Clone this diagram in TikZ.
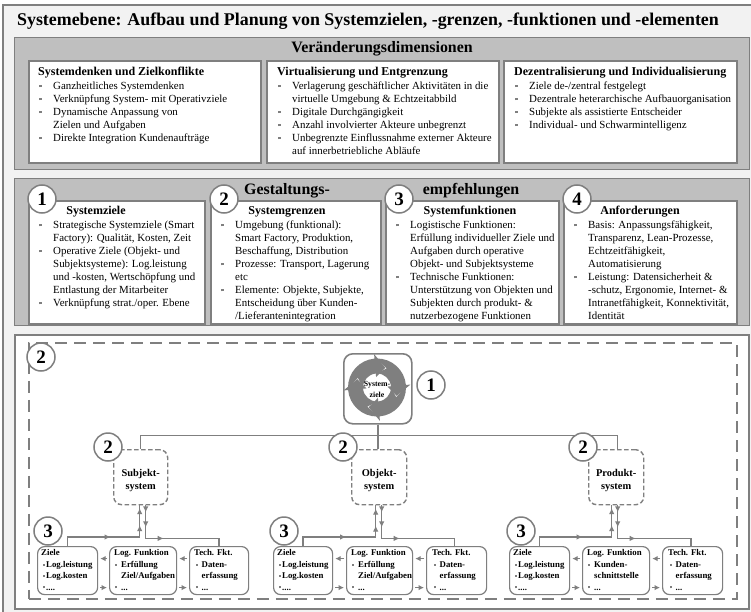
\documentclass[tikz,border=0pt]{standalone}
\usepackage{fontspec}
\setmainfont{Liberation Serif}
\usetikzlibrary{arrows.meta,decorations.markings}
\definecolor{linie}{HTML}{7F7F7F}
\definecolor{flaeche}{HTML}{BFBFBF}
\definecolor{grund}{HTML}{F2F2F2}
\newcommand{\pkt}{\makebox[15pt][l]{\hspace{1pt}\textcolor{linie}{\rule[1.9pt]{2.4pt}{2.4pt}}}}
\newcommand{\wtr}{\hspace{15pt}}
\newcommand{\kpkt}{\textcolor{linie}{\rule[1.7pt]{2pt}{2pt}}}
\tikzset{
	panel/.style={draw=linie,fill=flaeche,line width=1.3pt,anchor=north west,inner sep=0},
	weiss/.style={draw=linie,fill=white,line width=1.6pt,anchor=north west,inner sep=0},
	liste/.style={anchor=north west,inner sep=0,align=left,font=\fontsize{10.9}{13}\selectfont},
	kopf/.style={inner sep=0,font=\fontsize{12}{13}\selectfont\bfseries},
	titel/.style={inner sep=0,font=\fontsize{15.9}{17}\selectfont\bfseries},
	nummer/.style={circle,draw=linie,fill=white,line width=1.5pt,minimum size=28pt,inner sep=0,font=\fontsize{19}{20}\selectfont\bfseries},
	system/.style={draw=linie,fill=white,line width=1.4pt,dash pattern=on 4.5pt off 2.5pt,rounded corners=8pt,anchor=north west,inner sep=0,align=center,font=\fontsize{10.4}{13}\selectfont\bfseries},
	klein/.style={draw=linie,fill=white,line width=1.2pt,rounded corners=7pt,anchor=north west,inner sep=0,minimum height=48pt},
	kleintext/.style={anchor=north west,inner sep=0,align=left,font=\fontsize{8.8}{11.4}\selectfont\bfseries},
	verb/.style={draw=linie,line width=1.5pt},
	an/.style={postaction={decorate,decoration={markings,mark=at position #1 with {\arrow{Latex[length=6pt,width=5.5pt,color=linie]}}}}},
	kurz/.style={draw=linie,line width=1.3pt,-{Latex[length=5.5pt,width=5.5pt]},shorten >=2pt,shorten <=2pt}
}
\begin{document}
\begin{tikzpicture}[x=1pt,y=-1pt]
	\useasboundingbox (0,0) rectangle (751,612);
	\fill[grund] (3,5) rectangle (751,612);												% Hintergrund
	\draw[linie,line width=1.3pt] (3,612) -- (3,5) -- (751,5);
	\node[inner sep=0,font=\fontsize{17.9}{19}\selectfont\bfseries] (haupttitel) at (368,21) {Systemebene: Aufbau und Planung von Systemzielen, -grenzen, -funktionen und -elementen};
	
	% Veraenderungsdimensionen
	\node[panel,minimum width=735pt,minimum height=132pt] (panelA) at (14,37) {};
	\node[titel] (titelA) at (382,49) {Veränderungsdimensionen};
	\node[weiss,minimum width=232pt,minimum height=102pt] (boxA1) at (28,60) {};
	\node[weiss,minimum width=232pt,minimum height=102pt] (boxA2) at (266,60) {};
	\node[weiss,minimum width=233pt,minimum height=102pt] (boxA3) at (503,60) {};
	\node[liste] (textA1) at (38,66.5) {\textbf{\fontsize{12}{13}\selectfont Systemdenken und Zielkonflikte}\\[1pt]
		\pkt Ganzheitliches Systemdenken\\
		\pkt Verknüpfung System- mit Operativziele\\
		\pkt Dynamische Anpassung von\\
		\wtr Zielen und Aufgaben\\
		\pkt Direkte Integration Kundenaufträge};
	\node[liste] (textA2) at (277,66.5) {\textbf{\fontsize{12}{13}\selectfont Virtualisierung und Entgrenzung}\\[1pt]
		\pkt Verlagerung geschäftlicher Aktivitäten in die\\
		\wtr virtuelle Umgebung \& Echtzeitabbild\\
		\pkt Digitale Durchgängigkeit\\
		\pkt Anzahl involvierter Akteure unbegrenzt\\
		\pkt Unbegrenzte Einflussnahme externer Akteure\\
		\wtr auf innerbetriebliche Abläufe};
	\node[liste] (textA3) at (514,66.5) {\textbf{\fontsize{12}{13}\selectfont Dezentralisierung und Individualisierung}\\[1pt]
		\pkt Ziele de-/zentral festgelegt\\
		\pkt Dezentrale heterarchische Aufbauorganisation\\
		\pkt Subjekte als assistierte Entscheider\\
		\pkt Individual- und Schwarmintelligenz};
	
	% Gestaltungsempfehlungen
	\node[panel,minimum width=735pt,minimum height=147pt] (panelB) at (14,178) {};
	\node[titel] (titelB1) at (287,191) {Gestaltungs-};
	\node[titel] (titelB2) at (471,191) {empfehlungen};
	\node[weiss,minimum width=176pt,minimum height=123pt] (boxB1) at (28,200) {};
	\node[weiss,minimum width=170pt,minimum height=123pt] (boxB2) at (210,200) {};
	\node[weiss,minimum width=173pt,minimum height=123pt] (boxB3) at (385,200) {};
	\node[weiss,minimum width=173pt,minimum height=123pt] (boxB4) at (563,200) {};
	\node[kopf] (kopfB1) at (96,211.5) {Systemziele};
	\node[kopf] (kopfB2) at (287,211.5) {Systemgrenzen};
	\node[kopf] (kopfB3) at (470,211.5) {Systemfunktionen};
	\node[kopf] (kopfB4) at (640,211.5) {Anforderungen};
	\node[liste] (textB1) at (38,220.5) {\pkt Strategische Systemziele (Smart\\
		\wtr Factory): Qualität, Kosten, Zeit\\
		\pkt Operative Ziele (Objekt- und\\
		\wtr Subjektsysteme): Log.leistung\\
		\wtr und -kosten, Wertschöpfung und\\
		\wtr Entlastung der Mitarbeiter\\
		\pkt Verknüpfung strat./oper. Ebene};
	\node[liste] (textB2) at (220,220.5) {\pkt Umgebung (funktional):\\
		\wtr Smart Factory, Produktion,\\
		\wtr Beschaffung, Distribution\\
		\pkt Prozesse: Transport, Lagerung\\
		\wtr etc\\
		\pkt Elemente: Objekte, Subjekte,\\
		\wtr Entscheidung über Kunden-\\
		\wtr /Lieferantenintegration};
	\node[liste] (textB3) at (395,220.5) {\pkt Logistische Funktionen:\\
		\wtr Erfüllung individueller Ziele und\\
		\wtr Aufgaben durch operative\\
		\wtr Objekt- und Subjektsysteme\\
		\pkt Technische Funktionen:\\
		\wtr Unterstützung von Objekten und\\
		\wtr Subjekten durch produkt- \&\\
		\wtr nutzerbezogene Funktionen};
	\node[liste] (textB4) at (573,220.5) {\pkt Basis: Anpassungsfähigkeit,\\
		\wtr Transparenz, Lean-Prozesse,\\
		\wtr Echtzeitfähigkeit,\\
		\wtr Automatisierung\\
		\pkt Leistung: Datensicherheit \&\\
		\wtr -schutz, Ergonomie, Internet- \&\\
		\wtr Intranetfähigkeit, Konnektivität,\\
		\wtr Identität};
	\node[nummer] (kreisB1) at (42,199) {1};
	\node[nummer] (kreisB2) at (224,199) {2};
	\node[nummer] (kreisB3) at (399,199) {3};
	\node[nummer] (kreisB4) at (577,199) {4};
	
	% Systemaufbau
	\node[draw=linie,fill=white,line width=1.5pt,anchor=north west,inner sep=0,minimum width=734pt,minimum height=274pt] (panelC) at (14,334) {};
	\node[draw=linie,line width=1.5pt,dash pattern=on 12pt off 7pt,anchor=north west,inner sep=0,minimum width=708pt,minimum height=256pt] (grenze) at (28,342) {};
	\node[draw=linie,fill=white,line width=1.6pt,rounded corners=9pt,anchor=north west,inner sep=0,minimum width=68pt,minimum height=70pt] (zielbox) at (343,353) {};
	\begin{scope}[shift={(377,387.5)},y=1pt]
		\foreach \w in {95,5,-85,-175} {
			\fill[linie] (\w+86:29) arc[start angle=\w+86,end angle=\w,radius=29] -- (\w:33.5) -- (\w-28:21.5) -- (\w:10.5) -- (\w:14) arc[start angle=\w,end angle=\w+86,radius=14] -- (\w+58:21.5) -- cycle;
		}
	\end{scope}
	\node[inner sep=0,align=center,font=\fontsize{7.8}{11}\selectfont\bfseries] (zieltext) at (377,389) {System-\\ziele};
	
	% Systeme
	\node[system,minimum width=54pt,minimum height=55pt] (subjekt) at (113,449) {\rule{0pt}{14pt}Subjekt-\\system};
	\node[system,minimum width=55pt,minimum height=55pt] (objekt) at (351,449) {\rule{0pt}{14pt}Objekt-\\system};
	\node[system,minimum width=55pt,minimum height=55pt] (produkt) at (588,449) {\rule{0pt}{14pt}Produkt-\\system};
	
	% Elemente
	\node[klein,minimum width=60pt] (zieleS) at (37,546) {};
	\node[klein,minimum width=67pt] (logS) at (109,546) {};
	\node[klein,minimum width=59pt] (techS) at (189,546) {};
	\node[klein,minimum width=59pt] (zieleO) at (273,546) {};
	\node[klein,minimum width=66pt] (logO) at (346,546) {};
	\node[klein,minimum width=60pt] (techO) at (426,546) {};
	\node[klein,minimum width=60pt] (zieleP) at (509,546) {};
	\node[klein,minimum width=67pt] (logP) at (582,546) {};
	\node[klein,minimum width=60pt] (techP) at (662,546) {};
	
	\node[kleintext] (textZS) at (41,549.5) {Ziele\\\hspace{1.5pt}\kpkt\hspace{1.5pt}Log.leistung\\\hspace{1.5pt}\kpkt\hspace{1.5pt}Log.kosten\\\hspace{1.5pt}\kpkt\hspace{1.5pt}....};
	\node[kleintext] (textLS) at (114,549.5) {Log. Funktion\\\hspace{1pt}\kpkt\hspace{4pt}Erfüllung\\\hspace{7pt}Ziel/Aufgaben\\\hspace{1pt}\kpkt\hspace{4pt}...};
	\node[kleintext] (textTS) at (194,549.5) {Tech. Fkt.\\\hspace{1.5pt}\kpkt\hspace{4pt}Daten-\\\hspace{7.5pt}erfassung\\\hspace{1.5pt}\kpkt\hspace{4pt}...};
	\node[kleintext] (textZO) at (277,549.5) {Ziele\\\hspace{1.5pt}\kpkt\hspace{1.5pt}Log.leistung\\\hspace{1.5pt}\kpkt\hspace{1.5pt}Log.kosten\\\hspace{1.5pt}\kpkt\hspace{1.5pt}....};
	\node[kleintext] (textLO) at (351,549.5) {Log. Funktion\\\hspace{1pt}\kpkt\hspace{4pt}Erfüllung\\\hspace{7pt}Ziel/Aufgaben\\\hspace{1pt}\kpkt\hspace{4pt}...};
	\node[kleintext] (textTO) at (432,549.5) {Tech. Fkt.\\\hspace{1.5pt}\kpkt\hspace{4pt}Daten-\\\hspace{7.5pt}erfassung\\\hspace{1.5pt}\kpkt\hspace{4pt}...};
	\node[kleintext] (textZP) at (513,549.5) {Ziele\\\hspace{1.5pt}\kpkt\hspace{1.5pt}Log.leistung\\\hspace{1.5pt}\kpkt\hspace{1.5pt}Log.kosten\\\hspace{1.5pt}\kpkt\hspace{1.5pt}....};
	\node[kleintext] (textLP) at (587,549.5) {Log. Funktion\\\hspace{1pt}\kpkt\hspace{4pt}Kunden-\\\hspace{7pt}schnittstelle\\\hspace{1pt}\kpkt\hspace{4pt}...};
	\node[kleintext] (textTP) at (668,549.5) {Tech. Fkt.\\\hspace{1.5pt}\kpkt\hspace{4pt}Daten-\\\hspace{7.5pt}erfassung\\\hspace{1.5pt}\kpkt\hspace{4pt}...};
	
	% Verbindungen
	\draw[verb] (zielbox.south) -- ++(0,11) -| (subjekt.north);
	\draw[verb] (zielbox.south) -- ++(0,11) -| ([xshift=1.5pt]produkt.north);
	\draw[verb] (zielbox.south) -- (zielbox.south |- objekt.north);
	
	\draw[verb,an=52pt,an=93pt,an=110pt] (zieleS.north) -- ++(0,-9) -| ([xshift=-1pt]subjekt.south);
	\draw[verb,an=7pt,an=22pt,an=51pt] ([xshift=5pt]subjekt.south) -- ++(0,33) -| (techS.north);
	\draw[verb,an=52pt,an=93pt,an=110pt] (zieleO.north) -- ++(0,-9) -| ([xshift=-3.5pt]objekt.south);
	\draw[verb,an=7pt,an=22pt,an=51pt] ([xshift=2.5pt]objekt.south) -- ++(0,33) -| ([xshift=-2pt]techO.north);
	\draw[verb,an=52pt,an=93pt,an=110pt] (zieleP.north) -- ++(0,-9) -| ([xshift=-4.5pt]produkt.south);
	\draw[verb,an=7pt,an=22pt,an=51pt] ([xshift=1.5pt]produkt.south) -- ++(0,33) -| ([xshift=-1.5pt]techP.north);
	
	\draw[kurz] ([yshift=12pt]logS.west) -- ([yshift=12pt]zieleS.east);
	\draw[kurz] ([yshift=-17pt]zieleS.east) -- ([yshift=-17pt]logS.west);
	\draw[kurz] ([yshift=12pt]techS.west) -- ([yshift=12pt]logS.east);
	\draw[kurz] ([yshift=-17pt]logS.east) -- ([yshift=-17pt]techS.west);
	\draw[kurz] ([yshift=12pt]logO.west) -- ([yshift=12pt]zieleO.east);
	\draw[kurz] ([yshift=-17pt]zieleO.east) -- ([yshift=-17pt]logO.west);
	\draw[kurz] ([yshift=12pt]techO.west) -- ([yshift=12pt]logO.east);
	\draw[kurz] ([yshift=-17pt]logO.east) -- ([yshift=-17pt]techO.west);
	\draw[kurz] ([yshift=12pt]logP.west) -- ([yshift=12pt]zieleP.east);
	\draw[kurz] ([yshift=-17pt]zieleP.east) -- ([yshift=-17pt]logP.west);
	\draw[kurz] ([yshift=12pt]techP.west) -- ([yshift=12pt]logP.east);
	\draw[kurz] ([yshift=-17pt]logP.east) -- ([yshift=-17pt]techP.west);
	
	% Nummern
	\node[nummer] (kreisC) at (41,357) {2};
	\node[nummer] (kreisZ) at (431,385) {1};
	\node[nummer] (kreisS) at (108,447) {2};
	\node[nummer] (kreisO) at (343,447) {2};
	\node[nummer] (kreisP) at (583,447) {2};
	\node[nummer] (kreisS3) at (48,531) {3};
	\node[nummer] (kreisO3) at (284,531) {3};
	\node[nummer] (kreisP3) at (521,531) {3};
\end{tikzpicture}
\end{document}
